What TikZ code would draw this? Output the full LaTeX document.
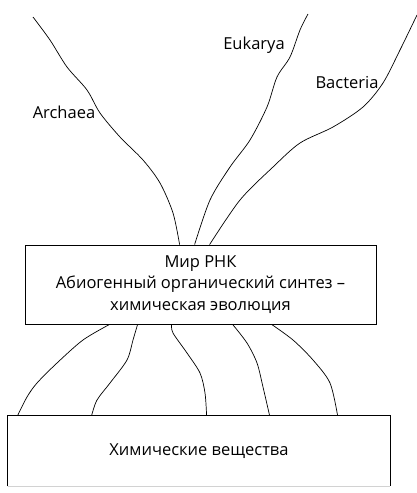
\documentclass[tikz,border=0pt]{standalone}
\usepackage{fontspec}
\setmainfont{Open Sans}
\usetikzlibrary{positioning,calc}

\begin{document}
\begin{tikzpicture}[x=1pt,y=-1pt,every node/.style={font=\fontsize{16.5}{21.5}\selectfont,align=center},stage/.style={line width=0.8pt,inner sep=0pt},branch/.style={line width=0.7pt,line join=round}]
\useasboundingbox (0,0) rectangle (417,493);
% two stages
\node[stage,draw,minimum width=351pt,minimum height=79pt] (rna) at (200.5,284.5) {Мир РНК\\Абиогенный органический синтез --\\химическая эволюция};
\node[stage,minimum width=382pt,minimum height=70pt] (chem) at (199,451) {Химические вещества};
\draw[stage] (chem.south west)--(chem.north west)--(chem.north east)--(chem.south east);
\draw[gray!35] (chem.south west)--(chem.south east);
% three domains
\coordinate (archaeatip) at (33,17);
\coordinate (eukaryatip) at (308,14);
\coordinate (bacteriatip) at (417,15);
\draw[branch] plot[smooth] coordinates {(archaeatip) (50,40) (67,67) (87,90) (100,113) (120,137) (143,160) (160,183) (173,213) ($(rna.north west)+(155,0)$)};
\draw[branch] plot[smooth] coordinates {(eukaryatip) (300,30) (290,57) (277,77) (267,107) (250,140) (230,167) (210,200) ($(rna.north west)+(170,0)$)};
\draw[branch] plot[smooth] coordinates {(bacteriatip) (400,50) (383,83) (363,107) (333,127) (300,143) (273,167) (240,200) ($(rna.north west)+(185,0)$)};
\node (archaea) at (64,112) {Archaea};
\node (eukarya) at (254,45) {Eukarya};
\node (bacteria) at (347,83) {Bacteria};
% roots
\draw[branch] plot[smooth] coordinates {($(rna.south west)+(85,0)$) (83,340) (57,363) (37,383) (27,397) ($(chem.north west)+(10,0)$)};
\draw[branch] plot[smooth] coordinates {($(rna.south west)+(113,0)$) (133,340) (127,360) (110,383) (97,400) ($(chem.north west)+(84,0)$)};
\draw[branch] plot[smooth] coordinates {($(rna.south west)+(147,0)$) (173,333) (187,353) (200,373) (205,393) ($(chem.north west)+(199,0)$)};
\draw[branch] plot[smooth] coordinates {($(rna.south west)+(208,0)$) (247,343) (257,363) (263,387) ($(chem.north west)+(262,0)$)};
\draw[branch] plot[smooth] coordinates {($(rna.south west)+(247,0)$) (293,340) (313,360) (330,383) ($(chem.north west)+(330,0)$)};
\end{tikzpicture}
\end{document}
